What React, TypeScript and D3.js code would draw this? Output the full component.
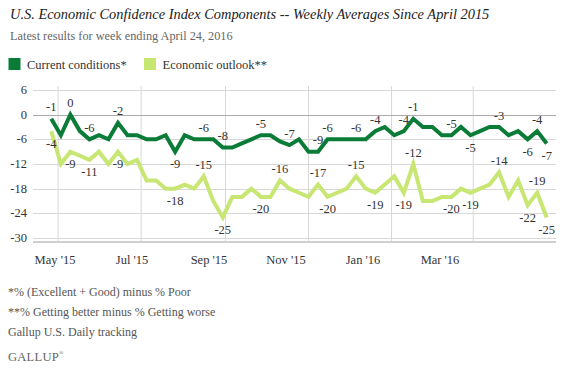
import React from "react";
import * as d3 from "d3";

const W = 564;
const H = 369;

const startDate = new Date(2015, 3, 26);
const endDate = new Date(2016, 3, 24);

const currentConditions = [
  -1, -5, 0, -4, -6, -5, -6, -2, -5, -5, -6, -6, -5, -9, -5, -6, -6, -6, -8, -8,
  -7, -6, -5, -5, -6.5, -7.4, -6, -9, -9, -6, -6, -6, -6, -6, -4, -3, -5, -4, -1, -3,
  -3, -5, -5, -3, -5, -4, -3, -3, -5, -4, -6, -4, -7,
];

const economicOutlook = [
  -4, -12, -9, -10, -11, -9, -12, -9, -12, -11, -16, -16, -18, -18, -17, -18, -15, -21, -25, -20,
  -20, -18, -20, -20, -16, -18, -19, -20, -17, -20, -19, -18, -15, -18, -19, -17, -15, -19, -12, -21,
  -21, -20, -20, -18, -19, -18, -17, -14, -20, -16, -22, -19, -25,
];

// [point index, 1 = above / -1 = below]
const currentLabels: [number, number][] = [
  [0, 1], [2, 1], [4, 1], [7, 1], [13, -1], [16, 1], [18, 1], [22, 1], [25, 1], [28, 1],
  [29, 1], [32, 1], [34, 1], [37, 1], [38, 1], [42, 1], [44, -1], [47, 1], [50, -1], [51, 1], [52, -1],
];
const outlookLabels: [number, number][] = [
  [0, -1], [2, -1], [4, -1], [7, -1], [13, -1], [16, 1], [18, -1], [22, -1], [24, 1], [28, 1],
  [29, -1], [32, 1], [34, -1], [37, -1], [38, 1], [42, -1], [44, -1], [47, 1], [50, -1], [51, 1], [52, -1],
];

const yTicks = [6, 0, -6, -12, -18, -24, -30];
const xTickLabels = ["May '15", "Jul '15", "Sep '15", "Nov '15", "Jan '16", "Mar '16"];

const seriesNames = ["Current conditions*", "Economic outlook**"];
const colors = ["#0b7c37", "#c7e672"];

const footnotes = [
  "*% (Excellent + Good) minus % Poor",
  "**% Getting better minus % Getting worse",
  "Gallup U.S. Daily tracking",
];

const FONT = "'Liberation Serif', 'DejaVu Serif', serif";

export default function App() {
  const dates = currentConditions.map((_, i) => d3.timeDay.offset(startDate, i * 7));
  const x = d3.scaleTime().domain([startDate, endDate]).range([51.3, 546.7]);
  const y = d3.scaleLinear().domain([-30, 6]).range([238, 90]);
  const labelX = d3.scaleLinear().domain([0, xTickLabels.length - 1]).range([55, 440]);
  const gridDates = x.ticks(d3.timeMonth.every(2)!);

  const plotLeft = 33;
  const plotRight = 556;
  const plotTop = 86;
  const plotBottom = 242;

  const line = d3
    .line<number>()
    .x((_, i) => x(dates[i]))
    .y((d) => y(d))
    .curve(d3.curveLinear);

  const renderLabels = (vals: number[], labels: [number, number][]) =>
    labels.map(([i, pos], k) => (
      <text
        key={k}
        x={x(dates[i])}
        y={pos > 0 ? y(vals[i]) - 7.5 : y(vals[i]) + 16.5}
        textAnchor="middle"
        fontSize={12.5}
        fill="#333"
      >
        {Math.round(vals[i])}
      </text>
    ));

  return (
    <svg width={W} height={H} style={{ position: "absolute", left: 0, top: 0 }} fontFamily={FONT}>
      <rect width={W} height={H} fill="#fff" />
      <text x={10} y={19} fontSize={14.4} fontStyle="italic" fill="#222">
        U.S. Economic Confidence Index Components -- Weekly Averages Since April 2015
      </text>
      <text x={10} y={40} fontSize={12.3} fill="#666">
        Latest results for week ending April 24, 2016
      </text>
      {seriesNames.map((n, k) => (
        <g key={n} transform={`translate(${k === 0 ? 8.5 : 144} , 58)`}>
          <rect width={12} height={12} fill={colors[k]} />
          <text x={18.5} y={10.5} fontSize={12.5} fill="#333">
            {n}
          </text>
        </g>
      ))}

      {gridDates.map((d, k) => (
        <line key={k} x1={x(d)} x2={x(d)} y1={plotTop} y2={plotBottom} stroke="#d8d8d8" />
      ))}
      {yTicks.map((t) => (
        <g key={t}>
          <line
            x1={plotLeft}
            x2={plotRight}
            y1={Math.round(y(t)) + 0.5}
            y2={Math.round(y(t)) + 0.5}
            stroke={t === 0 ? "#aaaaaa" : "#d8d8d8"}
          />
          <text x={27} y={y(t) + 4} textAnchor="end" fontSize={12.5} fill="#333">
            {t}
          </text>
        </g>
      ))}
      <line x1={plotLeft} x2={plotRight} y1={plotBottom} y2={plotBottom} stroke="#cfcfcf" strokeWidth={2} />

      {xTickLabels.map((l, k) => (
        <text key={l} x={labelX(k)} y={264} textAnchor="middle" fontSize={12.5} fill="#333">
          {l}
        </text>
      ))}

      <path d={line(economicOutlook) || ""} fill="none" stroke={colors[1]} strokeWidth={4} strokeLinejoin="miter" />
      <path d={line(currentConditions) || ""} fill="none" stroke={colors[0]} strokeWidth={4} strokeLinejoin="miter" />

      {renderLabels(currentConditions, currentLabels)}
      {renderLabels(economicOutlook, outlookLabels)}

      {footnotes.map((f, k) => (
        <text key={k} x={8} y={296 + k * 20} fontSize={12} fill="#555">
          {f}
        </text>
      ))}
      <text x={8} y={361} fontSize={12.6} fill="#666" letterSpacing={0.2}>
        GALLUP
        <tspan fontSize={6} dy={-6}>®</tspan>
      </text>
    </svg>
  );
}
